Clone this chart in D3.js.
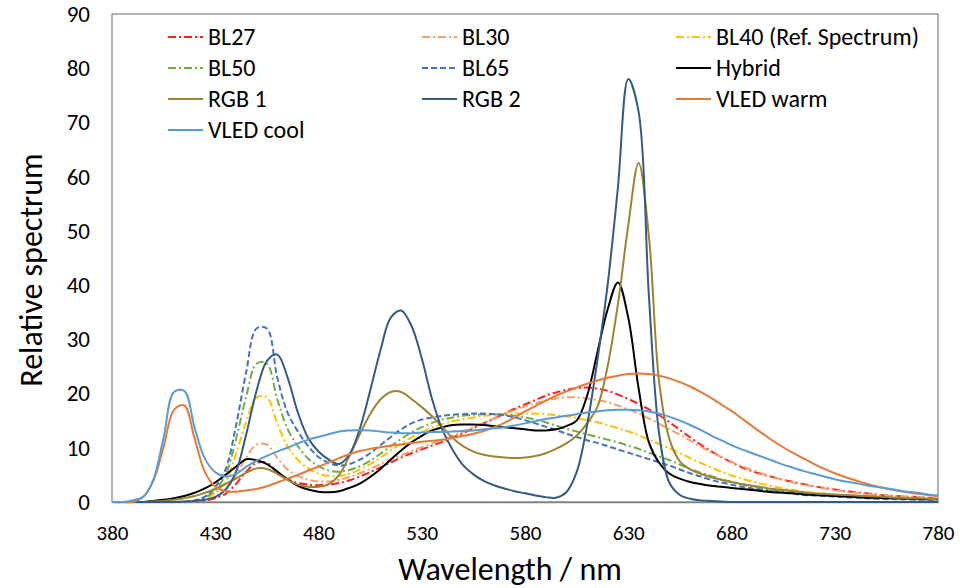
<!DOCTYPE html>
<html>
<head>
<meta charset="utf-8">
<script src="https://cdn.jsdelivr.net/npm/d3@7"></script>
<style>
  body { margin: 0; background: #fff; }
  svg text { font-family: "Carlito", "Open Sans", sans-serif; fill: #000; }
</style>
</head>
<body>
<div id="chart"></div>
<script>
// ---- data (5 nm steps 380..780) ----
const wavelengths = d3.range(380, 781, 5);

const bl27 = [
  0, 0, 0, 0, 0, 0, 0, 0, 0.1, 0.3,
  0.7, 1.5, 3.3, 5.6, 7.2, 7.2, 5.6, 4.2, 3.5, 3.2,
  3.1, 3.2, 3.5, 4.0, 4.7, 5.5, 6.4, 7.3, 8.2, 9.0,
  9.7, 10.4, 11.1, 11.9, 12.7, 13.6, 14.5, 15.4, 16.3, 17.2,
  18.0, 18.8, 19.6, 20.2, 20.7, 21.0, 21.1, 20.9, 20.5, 19.8,
  19.0, 18.1, 17.1, 16.0, 14.7, 13.3, 11.9, 10.6, 9.4, 8.3,
  7.3, 6.4, 5.7, 5.1, 4.6, 4.1, 3.7, 3.3, 2.9, 2.6,
  2.3, 2.0, 1.8, 1.6, 1.4, 1.2, 1.1, 1.0, 0.9, 0.8,
  0.7
];
const bl30 = [
  0, 0, 0, 0, 0, 0, 0, 0, 0.1, 0.4,
  1.0, 2.2, 4.9, 8.2, 10.6, 10.6, 8.2, 6.0, 4.8, 4.1,
  3.8, 3.8, 4.1, 4.6, 5.3, 6.1, 7.0, 7.9, 8.6, 9.4,
  10.1, 10.8, 11.5, 12.2, 13.0, 13.8, 14.6, 15.4, 16.2, 17.0,
  17.6, 18.2, 18.7, 19.1, 19.3, 19.3, 19.1, 18.8, 18.4, 17.8,
  17.1, 16.3, 15.4, 14.4, 13.4, 12.4, 11.3, 10.2, 9.2, 8.3,
  7.4, 6.6, 5.9, 5.2, 4.6, 4.1, 3.6, 3.2, 2.8, 2.5,
  2.2, 1.9, 1.7, 1.5, 1.3, 1.2, 1.1, 1.0, 0.9, 0.8,
  0.7
];
const bl40 = [
  0, 0, 0, 0, 0, 0, 0, 0, 0.2, 0.6,
  1.7, 3.8, 8.8, 14.8, 19.3, 19.3, 14.5, 10.3, 7.8, 6.2,
  5.2, 4.8, 4.8, 5.2, 6.0, 7.0, 8.2, 9.5, 10.8, 11.9,
  12.9, 13.7, 14.4, 14.9, 15.3, 15.6, 15.9, 16.1, 16.2, 16.3,
  16.3, 16.3, 16.2, 16.0, 15.8, 15.5, 15.1, 14.7, 14.2, 13.6,
  13.0, 12.3, 11.5, 10.7, 9.9, 9.0, 8.1, 7.2, 6.4, 5.6,
  4.9, 4.3, 3.8, 3.3, 2.9, 2.5, 2.2, 1.9, 1.7, 1.5,
  1.3, 1.2, 1.1, 1.0, 0.9, 0.8, 0.7, 0.7, 0.6, 0.6,
  0.5
];
const bl50 = [
  0, 0, 0, 0, 0, 0, 0, 0, 0.2, 0.8,
  2.2, 5.0, 11.5, 19.5, 25.5, 25.5, 19.0, 13.5, 10.3, 8.0,
  6.6, 5.8, 5.6, 5.9, 6.6, 7.6, 8.9, 10.3, 11.6, 12.8,
  13.8, 14.6, 15.2, 15.6, 15.9, 16.1, 16.2, 16.2, 16.1, 15.9,
  15.6, 15.2, 14.7, 14.1, 13.5, 13.0, 12.5, 12.0, 11.5, 11.0,
  10.4, 9.8, 9.1, 8.4, 7.7, 6.9, 6.1, 5.4, 4.8, 4.2,
  3.7, 3.2, 2.8, 2.4, 2.1, 1.9, 1.7, 1.5, 1.3, 1.2,
  1.1, 1.0, 0.9, 0.8, 0.7, 0.7, 0.6, 0.6, 0.5, 0.5,
  0.5
];
const bl65 = [
  0, 0, 0, 0, 0, 0, 0, 0, 0.3, 1.0,
  2.8, 6.0, 14.0, 24.0, 32.0, 32.0, 23.0, 16.5, 13.0, 10.3,
  8.3, 7.2, 6.7, 7.0, 7.8, 9.0, 10.5, 12.0, 13.4, 14.5,
  15.2, 15.6, 15.9, 16.1, 16.2, 16.3, 16.3, 16.2, 16.0, 15.6,
  15.1, 14.5, 13.9, 13.3, 12.6, 12.0, 11.4, 10.9, 10.3, 9.7,
  9.1, 8.5, 7.9, 7.3, 6.7, 6.0, 5.3, 4.7, 4.1, 3.6,
  3.2, 2.8, 2.5, 2.2, 1.9, 1.7, 1.5, 1.3, 1.2, 1.1,
  1.0, 0.9, 0.8, 0.7, 0.6, 0.6, 0.5, 0.5, 0.4, 0.4,
  0.4
];
const hybrid = [
  0, 0, 0, 0, 0.2, 0.4, 0.7, 1.1, 1.7, 2.5,
  3.6, 5.0, 6.5, 7.9, 7.7, 7.0, 5.6, 4.2, 3.0, 2.3,
  1.9, 1.8, 2.0, 2.6, 3.4, 4.6, 6.1, 7.8, 9.5, 11.0,
  12.2, 13.2, 13.8, 14.2, 14.3, 14.3, 14.2, 14.0, 13.8, 13.6,
  13.4, 13.2, 13.2, 13.4, 14.0, 15.0, 19.5, 27.5, 35.5, 40.5,
  34.0, 21.0, 11.0, 7.2, 5.2, 4.3, 3.7, 3.3, 3.0, 2.8,
  2.6, 2.4, 2.2, 2.0, 1.8, 1.7, 1.6, 1.4, 1.3, 1.2,
  1.1, 1.0, 0.9, 0.8, 0.8, 0.7, 0.7, 0.6, 0.6, 0.5,
  0.5
];
const rgb1 = [
  0, 0, 0, 0, 0.1, 0.2, 0.4, 0.7, 1.1, 1.7,
  2.4, 3.3, 4.3, 5.4, 6.2, 6.1, 5.2, 4.1, 3.2, 2.8,
  2.8, 3.3, 5.0, 8.5, 12.5, 16.2, 18.9, 20.3, 20.3, 19.0,
  17.5, 15.8, 13.8, 11.8, 10.3, 9.3, 8.7, 8.4, 8.2, 8.1,
  8.2, 8.5, 9.0, 9.8, 10.8, 12.2, 14.5, 17.5, 25.0, 36.5,
  51.0, 62.5, 49.0, 22.0, 11.5, 7.5, 6.0, 5.2, 4.6, 4.1,
  3.7, 3.3, 3.0, 2.7, 2.4, 2.2, 2.0, 1.8, 1.6, 1.5,
  1.4, 1.3, 1.2, 1.1, 1.0, 0.9, 0.8, 0.7, 0.7, 0.6,
  0.5
];
const rgb2 = [
  0, 0, 0, 0, 0, 0, 0, 0.1, 0.2, 0.4,
  0.9, 2.3, 5.5, 12.5, 20.5, 26.0, 27.2, 23.0, 16.5, 11.8,
  9.3, 7.8, 7.0, 8.8, 13.5, 20.5, 28.0, 34.0, 35.3, 32.5,
  26.5, 19.0, 13.3, 9.6, 6.8, 5.1, 3.9, 3.1, 2.5, 2.0,
  1.6, 1.2, 0.9, 0.8, 1.8, 5.5, 14.0, 26.0, 40.0, 58.0,
  78.0, 72.0, 38.0, 12.5, 3.5, 1.3, 0.6, 0.3, 0.2, 0.1,
  0, 0, 0, 0, 0, 0, 0, 0, 0, 0,
  0, 0, 0, 0, 0, 0, 0, 0, 0, 0,
  0
];
const vledWarm = [
  0, 0, 0, 0.9, 3.9, 10.2, 17.0, 17.8, 11.7, 5.5,
  2.8, 2.0, 1.9, 2.1, 2.4, 2.9, 3.6, 4.3, 5.0, 5.8,
  6.5, 7.3, 8.1, 8.8, 9.4, 9.8, 10.1, 10.4, 10.6, 10.9,
  11.1, 11.3, 11.5, 11.8, 12.2, 12.6, 13.1, 13.8, 14.6, 15.6,
  16.7, 17.7, 18.7, 19.6, 20.4, 21.1, 21.8, 22.4, 22.9, 23.3,
  23.6, 23.7, 23.6, 23.3, 22.8, 22.1, 21.3, 20.3, 19.2, 18.0,
  16.8, 15.4, 14.0, 12.6, 11.3, 10.1, 9.0, 8.0, 7.0, 6.1,
  5.3, 4.6, 4.0, 3.4, 2.9, 2.5, 2.1, 1.8, 1.5, 1.3,
  1.1
];
const vledCool = [
  0, 0, 0.3, 0.9, 4.1, 11.9, 20.3, 20.5, 13.7, 8.0,
  5.5, 4.7, 5.2, 6.5, 7.6, 8.5, 9.3, 10.0, 10.8, 11.5,
  12.0, 12.5, 13.0, 13.2, 13.3, 13.2, 13.0, 12.8, 12.7, 12.7,
  12.8, 12.9, 12.9, 13.0, 13.1, 13.2, 13.4, 13.6, 13.8, 14.1,
  14.5, 14.9, 15.3, 15.6, 15.9, 16.2, 16.5, 16.7, 16.9, 17.0,
  17.0, 16.9, 16.7, 16.3, 15.7, 15.0, 14.2, 13.3, 12.3, 11.4,
  10.5, 9.7, 9.0, 8.3, 7.6, 6.9, 6.3, 5.7, 5.2, 4.7,
  4.2, 3.8, 3.5, 3.1, 2.8, 2.5, 2.2, 1.9, 1.7, 1.4,
  1.2
];

const seriesNames = ["BL27", "BL30", "BL40 (Ref. Spectrum)", "BL50", "BL65", "Hybrid",
                     "RGB 1", "RGB 2", "VLED warm", "VLED cool"];
const seriesValues = [bl27, bl30, bl40, bl50, bl65, hybrid, rgb1, rgb2, vledWarm, vledCool];
const xTicks = [380, 430, 480, 530, 580, 630, 680, 730, 780];
const yTicks = [0, 10, 20, 30, 40, 50, 60, 70, 80, 90];

// styles
const colors = ["#ff1f1f", "#f4a26a", "#ffc000", "#70ad47", "#4472c4", "#000000",
                "#9c8530", "#345b86", "#e5793a", "#5b9bd5"];
const dashes = ["8,3,2,3", "8,3,2,3", "8,3,2,3", "8,3,2,3", "6,3", null, null, null, null, null];

const width = 960, height = 588;
const margin = {top: 14, right: 22, bottom: 86, left: 112};

const svg = d3.select("#chart").append("svg")
    .attr("width", width)
    .attr("height", height);

const x = d3.scaleLinear().domain([380, 780]).range([margin.left, width - margin.right]);
const y = d3.scaleLinear().domain([0, 90]).range([height - margin.bottom, margin.top]);

// plot frame
svg.append("rect")
    .attr("x", margin.left)
    .attr("y", margin.top)
    .attr("width", width - margin.left - margin.right)
    .attr("height", height - margin.top - margin.bottom)
    .attr("fill", "none")
    .attr("stroke", "#7f7f7f")
    .attr("stroke-width", 1.2);

// axes (labels only, no tick marks)
const xAxis = svg.append("g")
    .attr("transform", `translate(0,${height - margin.bottom})`)
    .call(d3.axisBottom(x).tickValues(xTicks).tickSize(0).tickPadding(23));
xAxis.select(".domain").attr("stroke", "#808080").attr("stroke-width", 1.5);
xAxis.selectAll("text").style("font-size", "21px").attr("fill", "#000");

const yAxis = svg.append("g")
    .attr("transform", `translate(${margin.left},0)`)
    .call(d3.axisLeft(y).tickValues(yTicks).tickSize(0).tickPadding(22));
yAxis.select(".domain").remove();
yAxis.selectAll("text").style("font-size", "23px").attr("fill", "#000");

// axis titles
svg.append("text")
    .attr("x", 510)
    .attr("y", 580)
    .attr("text-anchor", "middle")
    .style("font-size", "32px")
    .text("Wavelength / nm");

svg.append("text")
    .attr("transform", "translate(42,270) rotate(-90)")
    .attr("text-anchor", "middle")
    .style("font-size", "32px")
    .text("Relative spectrum");

// curves
const series = seriesNames.map((name, i) => ({
    name,
    color: colors[i],
    dash: dashes[i],
    points: wavelengths.map((w, j) => [w, seriesValues[i][j]])
}));

const line = d3.line()
    .x(d => x(d[0]))
    .y(d => y(d[1]))
    .curve(d3.curveCatmullRom.alpha(0.5));

svg.append("g").selectAll("path")
    .data(series)
    .join("path")
    .attr("d", d => line(d.points))
    .attr("fill", "none")
    .attr("stroke", d => d.color)
    .attr("stroke-width", 2)
    .attr("stroke-dasharray", d => d.dash);

// legend: 3 columns
const legend = svg.append("g").selectAll("g")
    .data(series)
    .join("g")
    .attr("transform", (d, i) => `translate(${168 + (i % 3) * 254},${37 + Math.floor(i / 3) * 31})`);

legend.append("line")
    .attr("x1", 0).attr("x2", 35)
    .attr("stroke", d => d.color)
    .attr("stroke-width", 2)
    .attr("stroke-dasharray", d => d.dash);

legend.append("text")
    .attr("x", 40)
    .attr("dy", "0.35em")
    .style("font-size", "24px")
    .text(d => d.name);
</script>
</body>
</html>
